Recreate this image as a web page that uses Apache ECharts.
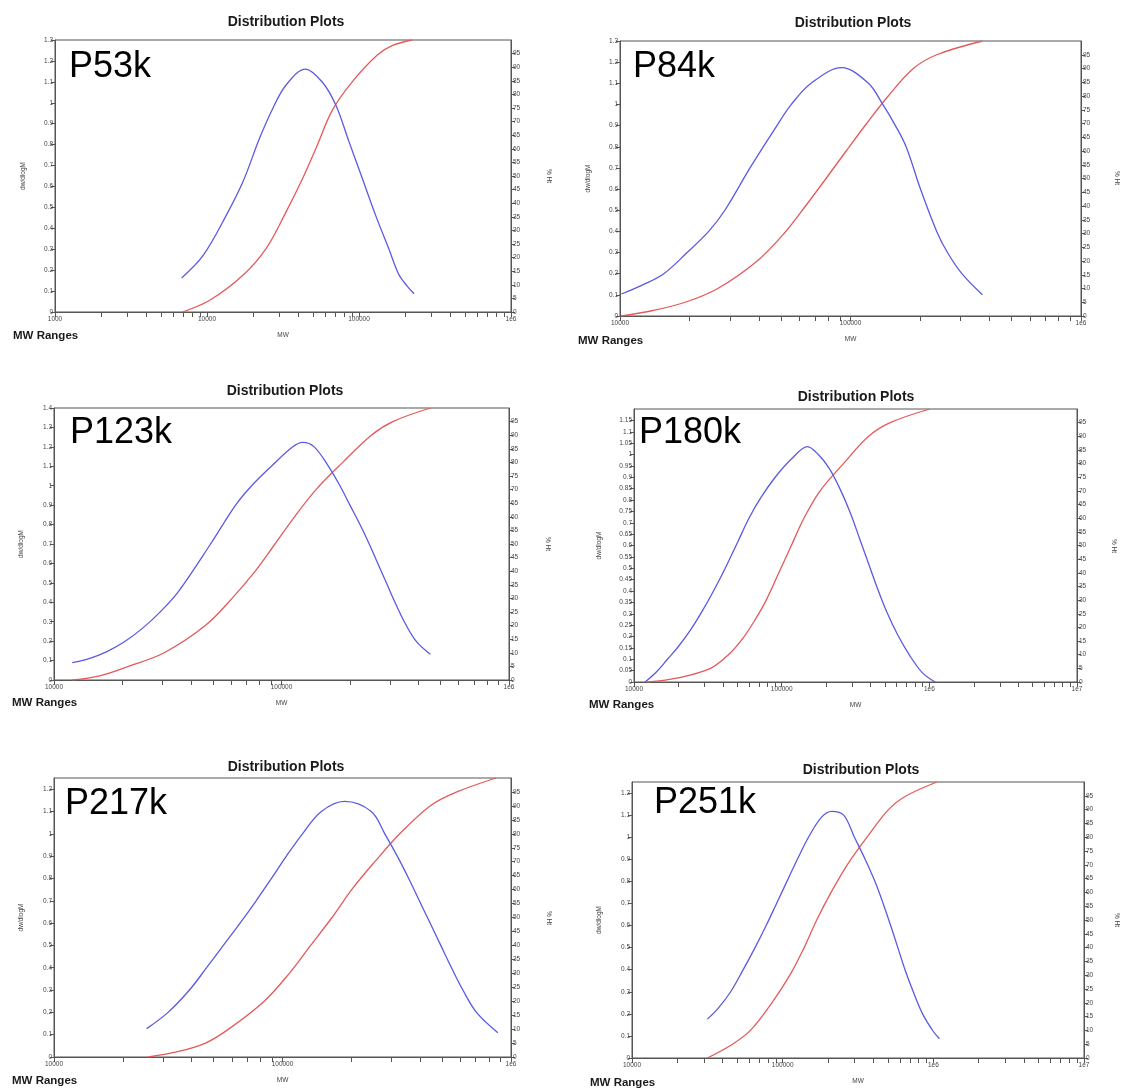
<!DOCTYPE html>
<html>
<head>
<meta charset="utf-8">
<script src="https://cdn.jsdelivr.net/npm/echarts@6/dist/echarts.min.js"></script>
<style>
html,body{margin:0;padding:0;background:#fff;}
#chart{width:1123px;height:1088px;}
</style>
</head>
<body>
<div id="chart"></div>
<script>
// ---------------- DATA ----------------
const sampleNames = ['P53k', 'P84k', 'P123k', 'P180k', 'P217k', 'P251k'];
const titleText = 'Distribution Plots';
const xAxisTitle = 'MW';
const leftAxisTitle = 'dw/dlogM';
const rightAxisTitle = '% Ht';
const rangesText = 'MW Ranges';

// P53k
const p53kBlueMW  = [6806, 9435, 13410, 17230, 22160, 27090, 33130, 44340, 57440, 70370, 86030, 105200, 128500, 156900, 182500, 206700, 230300];
const p53kBlueVal = [0.163, 0.271, 0.463, 0.622, 0.83, 0.973, 1.085, 1.161, 1.098, 0.989, 0.813, 0.638, 0.463, 0.303, 0.18, 0.125, 0.087];
const p53kRedMW   = [6908, 10420, 17230, 24470, 33130, 42570, 52040, 66830, 90440, 132000, 166400, 224000];
const p53kRedPct  = [0, 4.3, 13.5, 23.3, 36.8, 49.1, 60.1, 74.2, 84.7, 94.5, 98, 100];

// P84k
const p84kBlueMW  = [10140, 12490, 15490, 19550, 24250, 28510, 36650, 47960, 55370, 67450, 91500, 119600, 138100, 156600, 174300, 201200, 236600, 263500, 304300, 373400];
const p84kBlueVal = [0.104, 0.146, 0.2, 0.3, 0.4, 0.5, 0.7, 0.9, 1.0, 1.1, 1.174, 1.1, 1.0, 0.9, 0.8, 0.6, 0.4, 0.3, 0.2, 0.1];
const p84kRedMW   = [10140, 13910, 19200, 26560, 39380, 51490, 63820, 78310, 95760, 117500, 145800, 187400, 236600, 373400];
const p84kRedPct  = [0, 2, 5, 10, 20, 30, 40, 50, 60, 70, 80, 90, 95, 100];

// P123k
const p123kBlueMW  = [12030, 14260, 17080, 20470, 24530, 29390, 35220, 48770, 62830, 73920, 90220, 112100, 124000, 139200, 160900, 180700, 199900, 221300, 243000, 265100, 289100, 315300, 346600, 390500, 451200];
const p123kBlueVal = [0.089, 0.11, 0.146, 0.198, 0.267, 0.352, 0.455, 0.7, 0.9, 1.0, 1.1, 1.2, 1.223, 1.2, 1.1, 1.0, 0.9, 0.8, 0.7, 0.6, 0.5, 0.4, 0.3, 0.2, 0.132];
const p123kRedMW   = [12030, 15880, 21230, 30490, 46230, 60610, 76650, 93600, 114100, 141800, 185800, 248200, 308500, 451000];
const p123kRedPct  = [0, 1.5, 5, 10, 20, 30, 40, 50, 60, 70, 80, 90, 95, 100];

// P180k
const p180kBlueMW  = [11900, 14230, 16840, 19920, 24230, 29490, 35860, 42910, 50770, 60070, 72260, 90420, 116300, 149700, 177100, 209500, 247900, 293200, 337300, 388000, 446200, 513500, 607500, 739100, 898900, 1094000];
const p180kBlueVal = [0, 0.045, 0.1, 0.155, 0.23, 0.32, 0.42, 0.52, 0.62, 0.72, 0.81, 0.9, 0.98, 1.035, 1.0, 0.94, 0.85, 0.74, 0.63, 0.52, 0.41, 0.31, 0.21, 0.115, 0.04, 0];
const p180kRedMW   = [12370, 19920, 32970, 43630, 54600, 66430, 78620, 95610, 116300, 141500, 182100, 262000, 388000, 543000, 1006000];
const p180kRedPct  = [0, 1.5, 5, 10, 16, 23, 30, 40, 50, 60, 70, 80, 90, 95, 100];

// P217k
const p217kBlueMW  = [25440, 31570, 39160, 46530, 55080, 65210, 76670, 89460, 104000, 122300, 147900, 186800, 244600, 280400, 317900, 356700, 397200, 442500, 492800, 549000, 615800, 706000, 875700];
const p217kBlueVal = [0.127, 0.2, 0.3, 0.4, 0.5, 0.6, 0.7, 0.8, 0.9, 1.0, 1.1, 1.145, 1.1, 1.0, 0.9, 0.8, 0.7, 0.6, 0.5, 0.4, 0.3, 0.2, 0.109];
const p217kRedMW   = [25880, 35150, 46040, 58110, 83190, 107100, 132800, 164700, 200800, 253600, 326000, 442500, 579500, 859600];
const p217kRedPct  = [0, 2, 5, 10, 20, 30, 40, 50, 60, 70, 80, 90, 95, 100];

// P251k
const p251kBlueMW  = [31620, 37280, 45160, 54710, 65560, 77710, 91110, 106800, 125200, 148400, 180700, 212000, 254000, 299400, 352800, 409200, 464200, 520900, 581200, 648500, 735700, 848200, 1000000, 1098000];
const p251kBlueVal = [0.176, 0.225, 0.3, 0.4, 0.5, 0.6, 0.7, 0.8, 0.9, 1.0, 1.09, 1.117, 1.1, 1.0, 0.9, 0.8, 0.7, 0.6, 0.5, 0.4, 0.3, 0.2, 0.12, 0.087];
const p251kRedMW   = [31620, 46420, 61050, 84800, 111600, 138900, 168300, 209500, 268300, 362800, 504000, 662000, 1057000];
const p251kRedPct  = [0, 5, 10, 20, 30, 40, 50, 60, 70, 80, 90, 95, 100];

// axis ranges
const xMins = [1000, 10000, 10000, 10000, 10000, 10000];
const xMaxs = [1e6, 1e6, 1e6, 1e7, 1e6, 1e7];
const yMaxs = [1.3, 1.3, 1.4, 1.2, 1.25, 1.25];
const yIntervals = [0.1, 0.1, 0.1, 0.05, 0.1, 0.1];
const pctMax = 100;
const pctInterval = 5;

// ---------------- LAYOUT / STYLE ----------------
const blueSeries = [
  [p53kBlueMW, p53kBlueVal], [p84kBlueMW, p84kBlueVal], [p123kBlueMW, p123kBlueVal],
  [p180kBlueMW, p180kBlueVal], [p217kBlueMW, p217kBlueVal], [p251kBlueMW, p251kBlueVal]
];
const redSeries = [
  [p53kRedMW, p53kRedPct], [p84kRedMW, p84kRedPct], [p123kRedMW, p123kRedPct],
  [p180kRedMW, p180kRedPct], [p217kRedMW, p217kRedPct], [p251kRedMW, p251kRedPct]
];
const showYMax = [true, true, true, false, false, false];

const layout = [
  { grid: [55, 40, 456, 272], title: [286, 22], ranges: [13, 336], label: [69, 67], lGap: 28, rName: [549, 176] },
  { grid: [620, 41, 461, 275], title: [853, 23], ranges: [578, 341], label: [633, 67], lGap: 28, rName: [1117, 178] },
  { grid: [54, 408, 455, 272], title: [285, 391], ranges: [12, 703], label: [70, 433], lGap: 29, rName: [548, 544] },
  { grid: [634, 409, 443, 273], title: [856, 397], ranges: [589, 705], label: [639, 433], lGap: 31, rName: [1114, 546] },
  { grid: [54, 778, 457, 279], title: [286, 767], ranges: [12, 1081], label: [65, 804], lGap: 29, rName: [549, 918] },
  { grid: [632, 782, 452, 276], title: [861, 770], ranges: [590, 1083], label: [654, 803], lGap: 29, rName: [1117, 920] }
];

const FONT = 'Liberation Sans, Arial, Helvetica, sans-serif';
const AXIS_COLOR = '#555';
const LABEL_COLOR = '#444';
const BLUE = '#5a5ae2';
const RED = '#e45a5a';

function zip(a, b) { return a.map((v, i) => [v, b[i]]); }
function fmtMW(v) {
  const e = Math.round(Math.log10(v));
  if (e >= 6) return '1e' + e;
  return String(Math.round(v));
}

const grids = [], xAxes = [], yAxes = [], series = [], graphics = [];
layout.forEach((L, i) => {
  grids.push({
    left: L.grid[0], top: L.grid[1], width: L.grid[2], height: L.grid[3],
    show: true, borderColor: AXIS_COLOR, borderWidth: 1, backgroundColor: 'transparent',
    containLabel: false, outerBoundsMode: 'none'
  });
  xAxes.push({
    type: 'log', logBase: 10, gridIndex: i, min: xMins[i], max: xMaxs[i],
    name: xAxisTitle, nameLocation: 'middle', nameGap: 20,
    nameTextStyle: { fontFamily: FONT, fontSize: 6.5, color: LABEL_COLOR },
    axisLine: { show: true, lineStyle: { color: AXIS_COLOR, width: 1 } },
    axisTick: { show: true, inside: false, length: 5, lineStyle: { color: AXIS_COLOR } },
    minorTick: { show: true, splitNumber: 9, length: 5, lineStyle: { color: AXIS_COLOR } },
    splitLine: { show: false }, minorSplitLine: { show: false },
    axisLabel: { show: true, fontFamily: FONT, fontSize: 6.5, color: LABEL_COLOR, margin: 4,
      formatter: fmtMW, showMinLabel: true, showMaxLabel: true, hideOverlap: false }
  });
  yAxes.push({
    type: 'value', gridIndex: i, position: 'left', min: 0, max: yMaxs[i], interval: yIntervals[i],
    name: leftAxisTitle, nameLocation: 'middle', nameGap: L.lGap, nameRotate: 90,
    nameTextStyle: { fontFamily: FONT, fontSize: 6.5, color: LABEL_COLOR },
    axisLine: { show: true, lineStyle: { color: AXIS_COLOR, width: 1 } },
    axisTick: { show: true, inside: false, length: 4, lineStyle: { color: AXIS_COLOR } },
    splitLine: { show: false },
    axisLabel: { show: true, fontFamily: FONT, fontSize: 6.5, color: LABEL_COLOR, margin: 2,
      showMaxLabel: showYMax[i], hideOverlap: false }
  });
  yAxes.push({
    type: 'value', gridIndex: i, position: 'right', min: 0, max: pctMax, interval: pctInterval,
    axisLine: { show: true, lineStyle: { color: AXIS_COLOR, width: 1 } },
    axisTick: { show: true, inside: false, length: 4, lineStyle: { color: AXIS_COLOR } },
    splitLine: { show: false },
    axisLabel: { show: true, fontFamily: FONT, fontSize: 6.5, color: LABEL_COLOR, margin: 2,
      showMaxLabel: false, hideOverlap: false }
  });
  series.push({
    type: 'line', name: sampleNames[i] + ' dw/dlogM', xAxisIndex: i, yAxisIndex: i * 2,
    data: zip(blueSeries[i][0], blueSeries[i][1]), smooth: 0.35, showSymbol: false, symbol: 'none',
    lineStyle: { color: BLUE, width: 1.3 }, itemStyle: { color: BLUE }, animation: false, z: 3
  });
  series.push({
    type: 'line', name: sampleNames[i] + ' % Ht', xAxisIndex: i, yAxisIndex: i * 2 + 1,
    data: zip(redSeries[i][0], redSeries[i][1]), smooth: 0.35, showSymbol: false, symbol: 'none',
    lineStyle: { color: RED, width: 1.3 }, itemStyle: { color: RED }, animation: false, z: 2
  });
  graphics.push({
    type: 'text', x: L.title[0], y: L.title[1],
    style: { text: titleText, font: 'bold 14px ' + FONT, fill: '#1a1a1a', align: 'center', verticalAlign: 'middle' }
  });
  graphics.push({
    type: 'text', x: L.ranges[0], y: L.ranges[1],
    style: { text: rangesText, font: 'bold 11.5px ' + FONT, fill: '#1a1a1a', align: 'left', verticalAlign: 'middle' }
  });
  graphics.push({
    type: 'text', x: L.label[0], y: L.label[1],
    style: { text: sampleNames[i], font: '36px ' + FONT, fill: '#000', align: 'left', verticalAlign: 'middle' }
  });
  graphics.push({
    type: 'text', x: L.rName[0], y: L.rName[1], rotation: -Math.PI / 2,
    style: { text: rightAxisTitle, font: '6.5px ' + FONT, fill: LABEL_COLOR, align: 'center', verticalAlign: 'middle' }
  });
});

const chart = echarts.init(document.getElementById('chart'), null, { renderer: 'canvas' });
chart.setOption({
  backgroundColor: '#ffffff',
  animation: false,
  grid: grids,
  xAxis: xAxes,
  yAxis: yAxes,
  series: series,
  graphic: graphics
});
</script>
</body>
</html>
